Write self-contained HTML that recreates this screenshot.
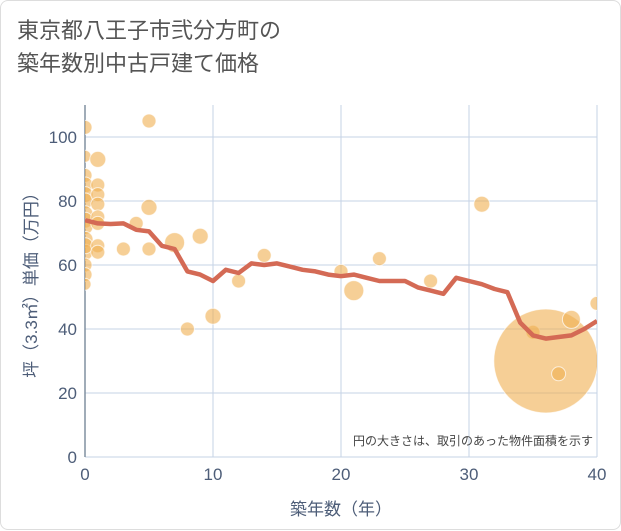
<!DOCTYPE html>
<html><head><meta charset="utf-8"><style>
body{margin:0;background:#fff;}
#wrap{position:relative;width:619px;height:528px;border:1px solid #ddd;border-radius:8px;background:#fff;font-family:"Liberation Sans","Noto Sans CJK JP",sans-serif;}
#title{position:absolute;left:16px;top:13px;font-size:22px;line-height:33px;color:#555;}
svg{position:absolute;left:0;top:0}
</style></head><body>
<div id="wrap">
<div id="title">東京都八王子市弐分方町の<br>築年数別中古戸建て価格</div>
<svg id="chart" width="621" height="530"></svg>
</div>
<script>
const xTicks=[0,10,20,30,40];
const yTicks=[0,20,40,60,80,100];
const bubbleYears=[0,0,0,0,0,0,0,0,0,0,0,0,0,0,0,1,1,1,1,1,1,1,1,3,4,5,5,5,7,8,9,10,12,14,20,21,23,27,31,35,36,37,38,40];
const bubblePrices=[103,94,88,85,82,80,76,74,72,68,64,60,57,54,66,93,85,82,79,75,73,66,64,65,73,105,78,65,67,40,69,44,55,63,58,52,62,55,79,39,30,26,43,48];
const bubbleSizes=[7,6,7,8,8,8,8,8,8,8,8,7,7,6,8,8,7,7,7,7,7,7,7,7,7,7,8,7,10,7,8,8,7,7,7,10,7,7,8,7,52,7,9,7];
const lineYears=[0,1,2,3,4,5,6,7,8,9,10,11,12,13,14,15,16,17,18,19,20,21,22,23,24,25,26,27,28,29,30,31,32,33,34,35,36,37,38,39,40];
const lineValues=[74,73,72.8,73,71,70.5,66,65,58,57,55,58.5,57.5,60.5,60,60.5,59.5,58.5,58,57,56.5,57,56,55,55,55,53,52,51,56,55,54,52.5,51.5,42,38,37,37.5,38,40,42.5];
const NS="http://www.w3.org/2000/svg";
const svg=document.getElementById('chart');
const X0=84,X1=596,Y0=456,YT=104;
const xs=v=>X0+v*(X1-X0)/40;
const ys=v=>Y0-v*3.2;
function mk(t,a){const e=document.createElementNS(NS,t);for(const k in a)e.setAttribute(k,a[k]);svg.appendChild(e);return e;}
const clip=mk('clipPath',{id:'pc'});
const cr=document.createElementNS(NS,'rect');cr.setAttribute('x',X0);cr.setAttribute('y',YT);cr.setAttribute('width',X1-X0);cr.setAttribute('height',Y0-YT);clip.appendChild(cr);
const TC='#4d5d78';
xTicks.forEach(t=>{const l=mk('line',{x1:xs(t),x2:xs(t),y1:YT,y2:Y0,stroke:'#c5d3e6','stroke-width':1});

const tx=mk('text',{x:xs(t),y:Y0+23,'text-anchor':'middle','font-size':17,fill:TC});tx.textContent=t;
});
yTicks.forEach(t=>{const l=mk('line',{x1:X0,x2:X1,y1:ys(t),y2:ys(t),stroke:'#c5d3e6','stroke-width':1});

const tx=mk('text',{x:X0-8,y:ys(t)+6,'text-anchor':'end','font-size':17,fill:TC});tx.textContent=t;
});
const ax=mk('line',{x1:X0,x2:X0,y1:YT,y2:Y0,stroke:'#8090a0','stroke-width':1.5});

const g=mk('g',{'clip-path':'url(#pc)'});
bubbleYears.forEach((yr,i)=>{const c=document.createElementNS(NS,'circle');
c.setAttribute('cx',xs(yr));c.setAttribute('cy',ys(bubblePrices[i]));c.setAttribute('r',bubbleSizes[i]);
c.setAttribute('fill','rgba(240,175,80,0.6)');c.setAttribute('stroke','rgba(255,255,255,0.7)');c.setAttribute('stroke-width',1);


g.appendChild(c);});
const pl=document.createElementNS(NS,'polyline');
pl.setAttribute('points',lineYears.map((y,i)=>xs(y)+','+ys(lineValues[i])).join(' '));
pl.setAttribute('fill','none');pl.setAttribute('stroke','#d46a55');pl.setAttribute('stroke-width',4.5);pl.setAttribute('stroke-linejoin','round');


g.appendChild(pl);
const note=mk('text',{x:592,y:444,'text-anchor':'end','font-size':12,fill:'#444'});note.textContent='円の大きさは、取引のあった物件面積を示す';

const xt=mk('text',{x:(X0+X1)/2,y:514,'text-anchor':'middle','font-size':17,fill:TC});xt.textContent='築年数（年）';

const yt=mk('text',{x:0,y:0,'text-anchor':'middle','font-size':17,fill:TC,transform:'translate(36,'+((YT+Y0)/2)+') rotate(-90)'});yt.textContent='坪（3.3㎡）単価（万円）';

</script>
</body></html>
